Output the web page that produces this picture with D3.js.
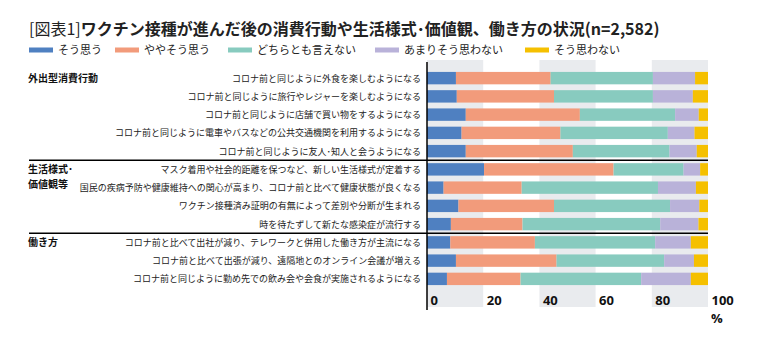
<!DOCTYPE html>
<html>
<head>
<meta charset="utf-8">
<script src="https://cdn.jsdelivr.net/npm/d3@7"></script>
<style>
  body { margin: 0; background: #fff; }
  svg { font-family: "Noto Sans CJK JP", "Noto Sans", sans-serif; }
</style>
</head>
<body>
<svg id="chart" width="759" height="342"></svg>
<script>
// 回答の区分
var series = ["そう思う", "ややそう思う", "どちらとも言えない", "あまりそう思わない", "そう思わない"];
var colors = ["#4f80c1", "#f29b7b", "#88cbbf", "#b9b2d9", "#f5c000"];

// 項目
var items = [
  "コロナ前と同じように外食を楽しむようになる",
  "コロナ前と同じように旅行やレジャーを楽しむようになる",
  "コロナ前と同じように店舗で買い物をするようになる",
  "コロナ前と同じように電車やバスなどの公共交通機関を利用するようになる",
  "コロナ前と同じように友人･知人と会うようになる",
  "マスク着用や社会的距離を保つなど、新しい生活様式が定着する",
  "国民の疾病予防や健康維持への関心が高まり、コロナ前と比べて健康状態が良くなる",
  "ワクチン接種済み証明の有無によって差別や分断が生まれる",
  "時を待たずして新たな感染症が流行する",
  "コロナ前と比べて出社が減り、テレワークと併用した働き方が主流になる",
  "コロナ前と比べて出張が減り、遠隔地とのオンライン会議が増える",
  "コロナ前と同じように勤め先での飲み会や会食が実施されるようになる"
];

// グループ (最初の項目の番号)
var groups = ["外出型消費行動", "生活様式･\n価値観等", "働き方"];
var groupStart = [0, 5, 9];

// 値 (%)
var soOmou      = [10.3, 10.6, 13.8, 12.3, 13.8, 20.3,  5.9, 11.2,  8.5,  8.3, 10.3,  7.1];
var yayaSoOmou  = [33.7, 34.6, 40.6, 35.2, 38.1, 46.1, 27.8, 34.0, 25.5, 30.1, 35.8, 26.2];
var dochiramo   = [36.4, 35.2, 33.9, 38.2, 34.4, 24.9, 48.5, 41.3, 49.0, 42.8, 38.3, 42.9];
var amari       = [15.0, 14.2,  8.4,  9.5,  9.7,  5.9, 13.5, 10.4, 13.6, 12.7, 10.6, 17.7];
var soOmowanai  = [ 4.6,  5.4,  3.3,  4.8,  4.0,  2.8,  4.3,  3.1,  3.4,  6.1,  5.0,  6.1];

var ticks = [0, 20, 40, 60, 80, 100];

var table = items.map(function(d, i) {
  return {
    item: d,
    "そう思う": soOmou[i],
    "ややそう思う": yayaSoOmou[i],
    "どちらとも言えない": dochiramo[i],
    "あまりそう思わない": amari[i],
    "そう思わない": soOmowanai[i]
  };
});

var svg = d3.select("#chart");

var x = d3.scaleLinear().domain([0, 100]).range([427, 708]);
var y = d3.scaleBand().domain(items).range([69, 288])
  .paddingInner(0.32).paddingOuter(0.16);
var color = d3.scaleOrdinal().domain(series).range(colors);

// タイトル
var title = svg.append("text")
  .attr("x", 29).attr("y", 35)
  .attr("font-size", 16)
  .attr("fill", "#222");
title.append("tspan").attr("font-weight", "normal").text("[図表1]");
title.append("tspan").attr("font-weight", "bold")
  .text("ワクチン接種が進んだ後の消費行動や生活様式･価値観、働き方の状況(n=2,582)");

// 凡例
var legendX = [29, 115, 228, 375, 525];
var legend = svg.selectAll("g.legend")
  .data(series)
  .enter().append("g")
  .attr("class", "legend")
  .attr("transform", function(d, i) { return "translate(" + legendX[i] + ",50)"; });
legend.append("rect")
  .attr("x", 0).attr("y", -2.5)
  .attr("width", 24).attr("height", 5)
  .attr("fill", function(d) { return color(d); });
legend.append("text")
  .attr("x", 29).attr("dy", "0.36em")
  .attr("font-size", 11)
  .attr("fill", "#222")
  .text(function(d) { return d; });

// 背景の帯
svg.selectAll("rect.band")
  .data([0, 40, 80])
  .enter().append("rect")
  .attr("class", "band")
  .attr("x", function(d) { return x(d); })
  .attr("y", 60)
  .attr("width", function(d) { return x(d + 20) - x(d); })
  .attr("height", 247)
  .attr("fill", "#e9ebee");

// 積み上げ棒
var stack = d3.stack().keys(series);
var layers = stack(table);

svg.selectAll("g.layer")
  .data(layers)
  .enter().append("g")
  .attr("class", "layer")
  .attr("fill", function(d) { return color(d.key); })
  .selectAll("rect")
  .data(function(d) { return d; })
  .enter().append("rect")
  .attr("x", function(d) { return x(d[0]); })
  .attr("y", function(d) { return y(d.data.item); })
  .attr("width", function(d) { return x(d[1]) - x(d[0]); })
  .attr("height", y.bandwidth());

// 縦軸の線
svg.append("line")
  .attr("x1", x(0)).attr("x2", x(0))
  .attr("y1", 62).attr("y2", 310)
  .attr("stroke", "#000").attr("stroke-width", 1.5);

// 項目ラベル
svg.selectAll("text.item")
  .data(items)
  .enter().append("text")
  .attr("class", "item")
  .attr("x", 421)
  .attr("y", function(d) { return y(d) + y.bandwidth() / 2; })
  .attr("dy", "0.4em")
  .attr("text-anchor", "end")
  .attr("font-size", 9)
  .attr("fill", "#222")
  .text(function(d) { return d; });

// グループ区切り線
svg.selectAll("line.sep")
  .data(groupStart.slice(1))
  .enter().append("line")
  .attr("class", "sep")
  .attr("x1", 29).attr("x2", x(100))
  .attr("y1", function(i) { return y(items[i]) - y.step() * y.paddingInner() / 2; })
  .attr("y2", function(i) { return y(items[i]) - y.step() * y.paddingInner() / 2; })
  .attr("stroke", "#000").attr("stroke-width", 1.5);

// グループラベル
var gl = svg.selectAll("text.group")
  .data(groups)
  .enter().append("text")
  .attr("class", "group")
  .attr("x", 28)
  .attr("y", function(d, i) { return y(items[groupStart[i]]) + y.bandwidth() / 2; })
  .attr("font-size", 10)
  .attr("font-weight", "bold")
  .attr("fill", "#111");
gl.selectAll("tspan")
  .data(function(d) { return d.split("\n"); })
  .enter().append("tspan")
  .attr("x", 28)
  .attr("dy", function(d, i) { return i === 0 ? "0.4em" : "1.5em"; })
  .text(function(d) { return d; });

// 横軸
var axis = svg.append("g")
  .attr("transform", "translate(0,300)")
  .call(d3.axisBottom(x).tickValues(ticks).tickSize(0).tickPadding(0));
axis.select(".domain").remove();
axis.selectAll("text")
  .attr("text-anchor", "start")
  .attr("dx", 3)
  .attr("y", 0)
  .attr("dy", "0.35em")
  .attr("font-size", 13)
  .attr("font-weight", "bold")
  .attr("font-family", "\"Open Sans\", \"Noto Sans\", sans-serif")
  .attr("fill", "#111");

svg.append("text")
  .attr("x", x(100) + 3).attr("y", 323)
  .attr("font-size", 13)
  .attr("font-weight", "bold")
  .attr("font-family", "\"Open Sans\", \"Noto Sans\", sans-serif")
  .attr("fill", "#111")
  .text("%");
</script>
</body>
</html>
